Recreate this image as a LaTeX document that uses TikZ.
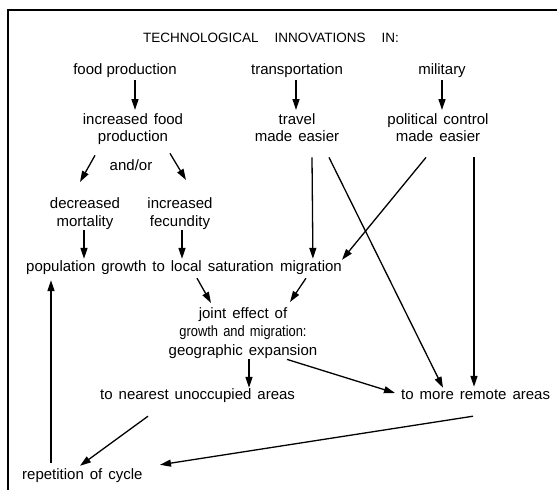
\documentclass[tikz,border=0pt]{standalone}
\usepackage{fontspec}
\usepackage{graphicx}
\setmainfont{Liberation Sans}
\usetikzlibrary{arrows.meta,positioning}
\newcommand\mywidesp{\spaceskip 0.4em\relax}
\tikzset{
  lbl/.style={inner sep=0pt, text height=11pt, text depth=3pt,
    font=\fontsize{15}{17}\selectfont\mywidesp},
  tight/.style={inner sep=0pt, text height=11pt, text depth=3pt,
    font=\fontsize{15}{17}\selectfont},
  ml/.style={inner sep=0pt, align=center, anchor=north,
    font=\fontsize{15}{17}\selectfont\mywidesp},
  arr/.style={line width=1.3pt, -{Triangle[length=11pt,width=7pt]}},
  frame/.style={line width=1.4pt},
}
\begin{document}
\begin{tikzpicture}[x=1pt,y=-1pt]
\useasboundingbox (0,0) rectangle (557,490);
\fill[white] (0,0) rectangle (557,490);
\draw[frame] (557,10) -- (8,10) -- (8,490);

% title
\node[inner sep=0pt, font=\fontsize{13.5}{16}\selectfont]
  (title) at (271,38) {TECHNOLOGICAL\hspace{16pt}INNOVATIONS\hspace{16pt}IN:};

% top row
\node[tight] (fp)  at (125,70) {food production};
\node[lbl]   (tr)  at (297,70) {transportation};
\node[lbl]   (mil) at (442,70) {military};

% second row
\node[ml] (ifp) at (133,113) {increased food\\production};
\node[ml] (tme) at (297,113) {travel\\made easier};
\node[ml] (pce) at (438,113) {political control\\made easier};

\node[tight] (andor) at (131,166.5) {and/or};

\node[ml, font=\fontsize{15}{18}\selectfont\mywidesp] (dm)  at (85,197)  {decreased\\mortality};
\node[ml, font=\fontsize{15}{18}\selectfont\mywidesp] (ifc) at (180,197) {increased\\fecundity};

\node[lbl, anchor=west] (pg) at (26,267) {population growth to local saturation};
\node[lbl, right=6pt of pg] (mig) {migration};

\node[ml, font=\fontsize{15}{18.5}\selectfont\mywidesp] (jt) at (243,307)
  {joint effect of\\\scalebox{0.86}[1]{growth and migration:}\\geographic expansion};

\node[lbl, anchor=west] (nr) at (100,395) {to nearest unoccupied areas};
\node[lbl, anchor=west] (rm) at (401,395) {to more remote areas};

\node[lbl, anchor=west] (rep) at (22,475) {repetition of cycle};

% connectors
\draw[arr] ([shift={(10,3)}]fp.south) -- ([shift={(2,-3)}]ifp.north);
\draw[arr] ([shift={(-1,3)}]tr.south) -- ([shift={(-1,-3)}]tme.north);
\draw[arr] ([shift={(0,3)}]mil.south) -- ([shift={(4,-3)}]pce.north);

\draw[arr] ([shift={(-38,11)}]ifp.south) -- ([shift={(-5,-15)}]dm.north);
\draw[arr] ([shift={(37,9)}]ifp.south) -- ([shift={(6,-17)}]ifc.north);

\draw[arr] ([shift={(-1,1)}]dm.south) -- ([shift={(58,-1)}]pg.north west);
\draw[arr] ([shift={(2,1)}]ifc.south) -- ([shift={(156,-1)}]pg.north west);

\draw[arr] ([shift={(15,16)}]tme.south) -- ([shift={(2,-1)}]mig.north);
\draw[arr] ([shift={(32,16)}]tme.south) -- ([shift={(42,0)}]rm.north west);
\draw[arr] ([shift={(-12,16)}]pce.south) -- ([shift={(0,0)}]mig.north east);
\draw[arr] ([shift={(36,16)}]pce.south) -- ([shift={(73,-1)}]rm.north west);

\draw[arr] ([shift={(171,4)}]pg.south west) -- ([shift={(-32,-4)}]jt.north);
\draw[arr] ([shift={(-5,4)}]mig.south) -- ([shift={(47,-5)}]jt.north);

\draw[arr] ([shift={(6,1)}]jt.south) -- ([shift={(149,0)}]nr.north west);
\draw[arr] ([shift={(44,1)}]jt.south) -- ([shift={(-6,-2)}]rm.west);

\draw[arr] ([shift={(48,14)}]nr.south west) -- ([shift={(58,-2)}]rep.north west);
\draw[arr] ([shift={(72,14)}]rm.south west) -- ([shift={(138,-3)}]rep.north west);

\draw[arr] ([shift={(29,-5)}]rep.north west) -- ([shift={(25,6)}]pg.south west);
\end{tikzpicture}
\end{document}
